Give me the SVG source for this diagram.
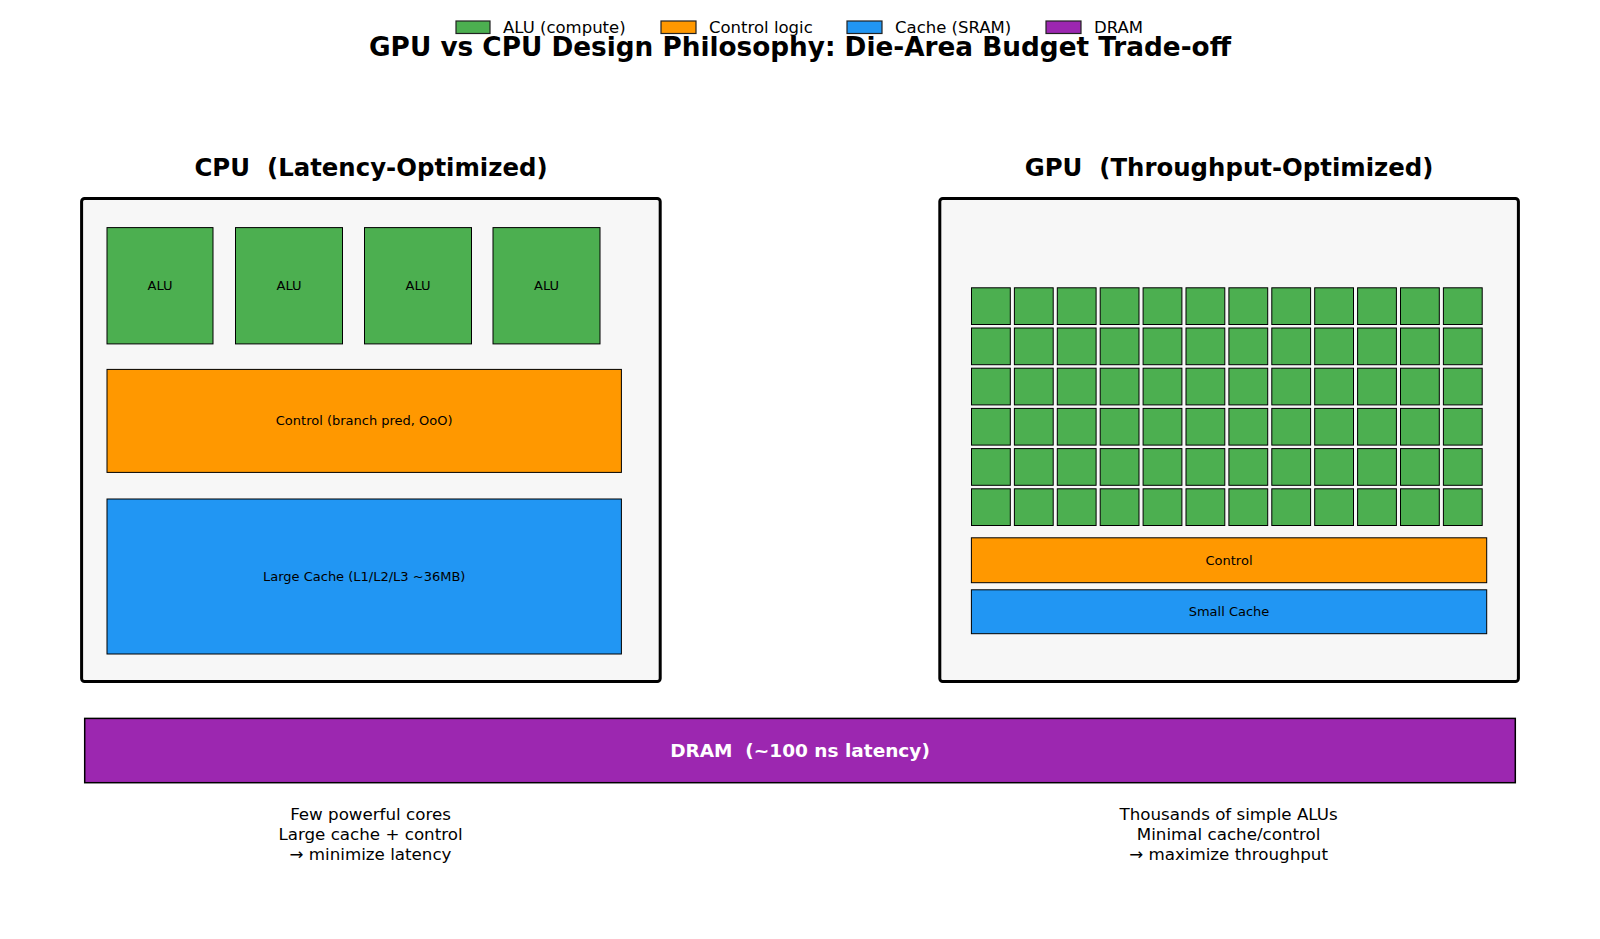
<svg xmlns="http://www.w3.org/2000/svg" width="1600" height="939" viewBox="0 0 1600 939">
<style>
text{font-family:"DejaVu Sans","Liberation Sans",sans-serif;fill:#000;}
.title{font-size:26.3px;font-weight:bold;text-anchor:middle;}
.sub{font-size:24.4px;font-weight:bold;text-anchor:middle;white-space:pre;}
.leg{font-size:16.5px;dominant-baseline:central;}
.lbl{font-size:13px;text-anchor:middle;dominant-baseline:central;}
.note{font-size:16.7px;text-anchor:middle;}
.die{fill:#f7f7f7;stroke:#000;stroke-width:3;}
.alu{fill:#4caf50;stroke:#000;stroke-width:1;}
.ctl{fill:#ff9800;stroke:#000;stroke-width:1;}
.cache{fill:#2196f3;stroke:#000;stroke-width:1;}
.dram{fill:#9c27b0;stroke:#000;stroke-width:1.5;}
.patch{stroke:#222;stroke-width:1.2;}
</style>
<defs>
<rect id="cell" width="38.8" height="36.7" class="alu"/>
</defs>
<rect width="1600" height="939" fill="#fff"/>
<g id="legend">
<rect class="patch" x="456" y="21" width="34" height="12.5" fill="#4caf50"/>
<text class="leg" x="503" y="27.5">ALU (compute)</text>
<rect class="patch" x="661" y="21" width="35" height="12.5" fill="#ff9800"/>
<text class="leg" x="709" y="27.5">Control logic</text>
<rect class="patch" x="847" y="21" width="35" height="12.5" fill="#2196f3"/>
<text class="leg" x="895" y="27.5">Cache (SRAM)</text>
<rect class="patch" x="1046" y="21" width="35" height="12.5" fill="#9c27b0"/>
<text class="leg" x="1094" y="27.5">DRAM</text>
</g>
<text class="title" x="800" y="55.5">GPU vs CPU Design Philosophy: Die-Area Budget Trade-off</text>
<g id="cpu">
<text class="sub" x="371" y="176" xml:space="preserve">CPU  (Latency-Optimized)</text>
<rect class="die" x="81.6" y="198.5" width="578.6" height="483" rx="3"/>
<g id="cpu-alu1"><rect class="alu" x="107" y="227.6" width="106" height="116.3"/><text class="lbl" x="160" y="285.7">ALU</text></g>
<g id="cpu-alu2"><rect class="alu" x="235.5" y="227.6" width="107" height="116.3"/><text class="lbl" x="289" y="285.7">ALU</text></g>
<g id="cpu-alu3"><rect class="alu" x="364.5" y="227.6" width="107" height="116.3"/><text class="lbl" x="418" y="285.7">ALU</text></g>
<g id="cpu-alu4"><rect class="alu" x="493" y="227.6" width="107" height="116.3"/><text class="lbl" x="546.5" y="285.7">ALU</text></g>
<g id="cpu-control"><rect class="ctl" x="107" y="369.4" width="514.4" height="103"/><text class="lbl" x="364.2" y="420.9">Control (branch pred, OoO)</text></g>
<g id="cpu-cache"><rect class="cache" x="107" y="499" width="514.4" height="155"/><text class="lbl" x="364.2" y="576.5">Large Cache (L1/L2/L3 ~36MB)</text></g>
</g>
<g id="gpu">
<text class="sub" x="1229" y="176" xml:space="preserve">GPU  (Throughput-Optimized)</text>
<rect class="die" x="939.8" y="198.5" width="578.6" height="483" rx="3"/>
<g id="gpu-alus">
<g id="row0" transform="translate(971.5,287.8)"><use href="#cell" x="0"/><use href="#cell" x="42.9"/><use href="#cell" x="85.8"/><use href="#cell" x="128.7"/><use href="#cell" x="171.6"/><use href="#cell" x="214.5"/><use href="#cell" x="257.4"/><use href="#cell" x="300.3"/><use href="#cell" x="343.2"/><use href="#cell" x="386.1"/><use href="#cell" x="429"/><use href="#cell" x="471.9"/></g>
<use href="#row0" y="40.2"/>
<use href="#row0" y="80.4"/>
<use href="#row0" y="120.6"/>
<use href="#row0" y="160.8"/>
<use href="#row0" y="201"/>
</g>
<g id="gpu-control"><rect class="ctl" x="971.4" y="537.8" width="515.3" height="44.9"/><text class="lbl" x="1229" y="560.2">Control</text></g>
<g id="gpu-cache"><rect class="cache" x="971.4" y="589.8" width="515.3" height="43.9"/><text class="lbl" x="1229" y="611.7">Small Cache</text></g>
</g>
<g id="dram">
<rect class="dram" x="84.7" y="718.4" width="1430.6" height="64.3"/>
<text x="800" y="750.5" font-size="18.5" font-weight="bold" text-anchor="middle" dominant-baseline="central" style="fill:#fff" xml:space="preserve">DRAM  (~100 ns latency)</text>
</g>
<g id="cpu-note">
<text class="note" x="370.5" y="820">Few powerful cores</text>
<text class="note" x="370.5" y="840">Large cache + control</text>
<text class="note" x="370.5" y="859.5">→ minimize latency</text>
</g>
<g id="gpu-note">
<text class="note" x="1228.6" y="820">Thousands of simple ALUs</text>
<text class="note" x="1228.6" y="840">Minimal cache/control</text>
<text class="note" x="1228.6" y="859.5">→ maximize throughput</text>
</g>
<g id="connectors"></g>
</svg>
